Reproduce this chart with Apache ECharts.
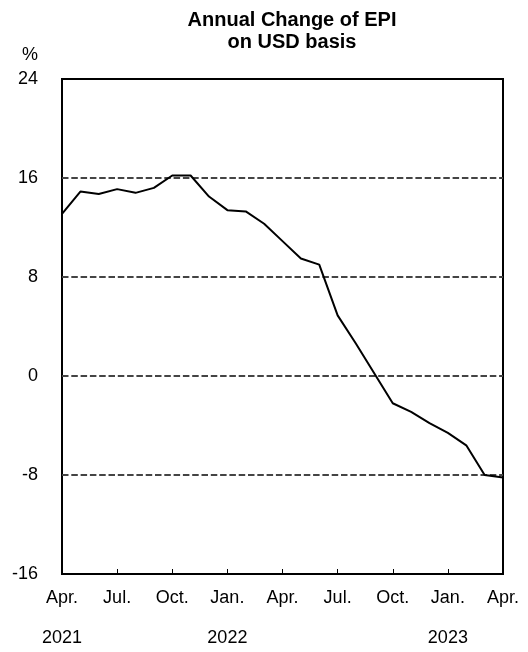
<!DOCTYPE html>
<html>
<head>
<meta charset="utf-8">
<script src="https://cdn.jsdelivr.net/npm/echarts@6/dist/echarts.min.js"></script>
<style>
html,body{margin:0;padding:0;background:#fff;}
#chart{width:528px;height:652px;}
</style>
</head>
<body>
<div id="chart"></div>
<script>
const titleLines = ['Annual Change of EPI', 'on USD basis'];
const unitLabel = '%';
const months = ['2021-04','2021-05','2021-06','2021-07','2021-08','2021-09','2021-10','2021-11','2021-12',
  '2022-01','2022-02','2022-03','2022-04','2022-05','2022-06','2022-07','2022-08','2022-09','2022-10','2022-11','2022-12',
  '2023-01','2023-02','2023-03','2023-04'];
const epiChange = [13.1, 14.9, 14.7, 15.1, 14.8, 15.2, 16.2, 16.2, 14.5,
  13.4, 13.3, 12.3, 10.9, 9.5, 9.0, 4.9, 2.6, 0.2, -2.2, -2.9, -3.8,
  -4.6, -5.6, -8.0, -8.2];
const monthNames = {'01':'Jan.','04':'Apr.','07':'Jul.','10':'Oct.'};
const yearLabelMonths = ['2021-04','2022-01','2023-01'];
const yTicks = {min: -16, max: 24, interval: 8};

const chart = echarts.init(document.getElementById('chart'), null, {renderer:'canvas'});
const FONT = '"Liberation Sans", Arial, sans-serif';
chart.setOption({
  animation: false,
  backgroundColor: '#fff',
  title: {
    text: titleLines.join('\n'),
    left: 287, top: 4, textAlign: 'center',
    textStyle: {fontFamily: FONT, fontWeight: 'bold', fontSize: 20, lineHeight: 22, color: '#000'}
  },
  grid: {left: 62, right: 25, top: 79, bottom: 78, show: true, borderColor: '#000', borderWidth: 2, containLabel: false},
  xAxis: {
    type: 'category', data: months, boundaryGap: false,
    axisLine: {show: true, onZero: false, lineStyle: {color: '#000', width: 2}},
    axisTick: {show: true, inside: true, interval: 2, length: 5, lineStyle: {color: '#000', width: 1}},
    axisLabel: {
      interval: 2, margin: 14, color: '#000', fontFamily: FONT, fontSize: 18, lineHeight: 20,
      formatter: function (v) {
        const m = v.slice(5);
        let s = monthNames[m] || '';
        if (yearLabelMonths.indexOf(v) >= 0) s += '\n\n' + v.slice(0, 4);
        return s;
      }
    },
    splitLine: {show: false}
  },
  yAxis: {
    type: 'value', min: yTicks.min, max: yTicks.max, interval: yTicks.interval,
    name: unitLabel, nameLocation: 'end', nameGap: 15,
    nameTextStyle: {color: '#000', fontFamily: FONT, fontSize: 18, align: 'right', padding: [0, 24, 0, 0]},
    axisLine: {show: false}, axisTick: {show: false},
    axisLabel: {margin: 24, color: '#000', fontFamily: FONT, fontSize: 18},
    splitLine: {show: true, showMinLine: false, showMaxLine: false, lineStyle: {color: '#444', type: [6.5, 2.8], width: 2}}
  },
  series: [{
    type: 'line', data: epiChange, showSymbol: false, symbol: 'none',
    lineStyle: {color: '#000', width: 2}, z: 5
  }]
});
</script>
</body>
</html>
